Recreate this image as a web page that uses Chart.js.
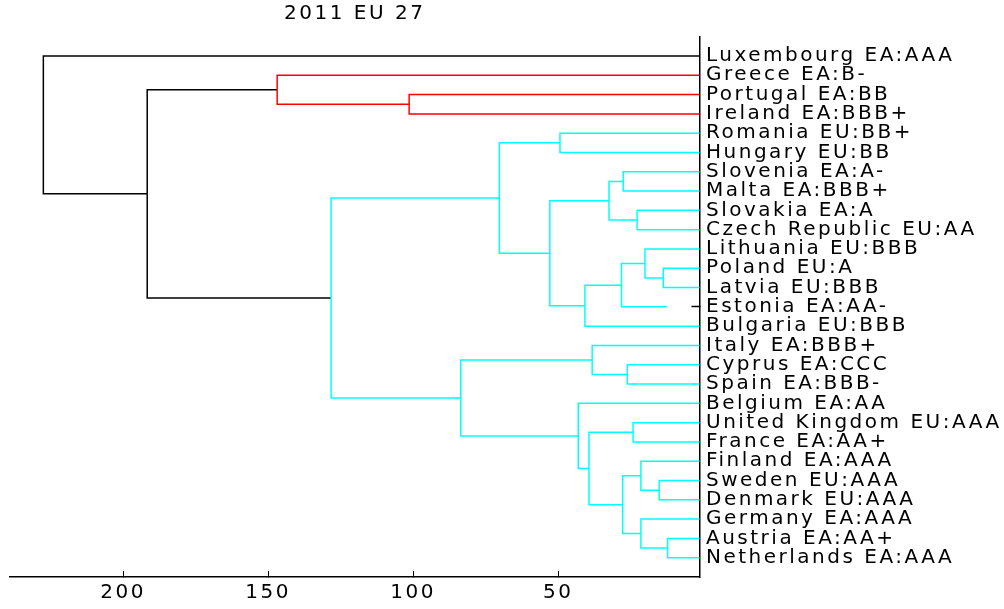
<!DOCTYPE html>
<html>
<head>
<meta charset="utf-8">
<title>2011 EU 27</title>
<script src="https://cdn.jsdelivr.net/npm/chart.js@4/dist/chart.umd.min.js"></script>
<style>
  html, body { margin: 0; padding: 0; background: #fff; }
  #wrap { width: 1004px; height: 609px; }
</style>
</head>
<body>
<div id="wrap"><canvas id="chart" width="1004" height="609"></canvas></div>
<script>
// Leaves, top to bottom
const leafLabels = [
    'Luxembourg EA:AAA', 'Greece EA:B-', 'Portugal EA:BB', 'Ireland EA:BBB+',
    'Romania EU:BB+', 'Hungary EU:BB', 'Slovenia EA:A-', 'Malta EA:BBB+',
    'Slovakia EA:A', 'Czech Republic EU:AA', 'Lithuania EU:BBB', 'Poland EU:A',
    'Latvia EU:BBB', 'Estonia EA:AA-', 'Bulgaria EU:BBB', 'Italy EA:BBB+',
    'Cyprus EA:CCC', 'Spain EA:BBB-', 'Belgium EA:AA', 'United Kingdom EU:AAA',
    'France EA:AA+', 'Finland EA:AAA', 'Sweden EU:AAA', 'Denmark EU:AAA',
    'Germany EA:AAA', 'Austria EA:AA+', 'Netherlands EA:AAA'
];

// Linkage: merge k makes node 27 + k out of two children (leaf index or node index)
const mergeLeft = [25, 11, 22, 10, 21, 24, 8, 19, 16, 6, 31, 30, 36, 15, 34, 38, 18, 4, 39, 44, 40, 2, 46, 1, 50, 0];
const mergeRight = [26, 12, 23, 28, 29, 27, 9, 20, 17, 7, 32, 13, 33, 35, 37, 14, 41, 5, 42, 45, 43, 3, 47, 48, 49, 51];
const mergeHeight = [12.3, 13.8, 15.2, 20.1, 21.5, 21.5, 22.8, 24.2, 26.2, 27.6, 27.8, 28.2, 32.5,
    38.3, 39.4, 40.8, 43.1, 49.4, 52.9, 70.3, 83.6, 101.4, 128.3, 146.9, 191.7, 227.5];

// Estonia's leaf line stops short in the original
const leafTips = { 'Estonia EA:AA-': 12.5 };

const xTicks = [50, 100, 150, 200];

// Position of every node
const nLeaves = leafLabels.length;
const nodeY = leafLabels.map((_, i) => i + 1);
const nodeH = leafLabels.map(() => 0);
mergeHeight.forEach((h, m) => {
    nodeY.push((nodeY[mergeLeft[m]] + nodeY[mergeRight[m]]) / 2);
    nodeH.push(h);
});

// Colour clusters below the cut, black above
const colorCut = 0.7 * Math.max(...mergeHeight);
const clusterPalette = ['#ff0000', '#00ffff'];
const linkColor = [];
let nextColor = 0;
function paint(node, color) {
    if (node < nLeaves) return;
    const m = node - nLeaves;
    let c = color;
    if (!c && mergeHeight[m] < colorCut) c = clusterPalette[nextColor++];
    linkColor[m] = c || '#000000';
    paint(mergeLeft[m], c);
    paint(mergeRight[m], c);
}
paint(nodeY.length - 1, null);

function tip(node) {
    if (node < nLeaves) return leafTips[leafLabels[node]] || 0;
    return nodeH[node];
}

const datasets = mergeHeight.map((h, m) => {
    const a = mergeLeft[m], b = mergeRight[m];
    return {
        data: [
            { x: tip(a), y: nodeY[a] },
            { x: h, y: nodeY[a] },
            { x: h, y: nodeY[b] },
            { x: tip(b), y: nodeY[b] }
        ],
        borderColor: linkColor[m],
        borderWidth: 1.5,
        showLine: true,
        pointRadius: 0,
        fill: false
    };
});

const font = { family: 'DejaVu Sans', size: 20, weight: 'normal', lineHeight: 1.2 };

// wide glyphs like the original
const spacingPlugin = {
    id: 'spacing',
    beforeLayout(chart) { chart.ctx.letterSpacing = '2.5px'; },
    beforeDraw(chart) { chart.ctx.letterSpacing = '2.5px'; }
};

// y ticks only show where a leaf line doesn't cover them
function yTickColor(ctx) {
    const label = leafLabels[ctx.tick.value - 1];
    return leafTips[label] !== undefined ? '#000' : 'rgba(0,0,0,0)';
}

new Chart(document.getElementById('chart'), {
    type: 'scatter',
    data: { datasets: datasets },
    plugins: [spacingPlugin],
    options: {
        responsive: false,
        animation: false,
        devicePixelRatio: 1,
        layout: { padding: { left: 10, right: 0, top: 0, bottom: 0 } },
        plugins: {
            legend: { display: false },
            tooltip: { enabled: false },
            title: {
                display: true,
                text: '2011 EU 27',
                fullSize: false,
                color: '#000',
                font: font,
                padding: { top: 2, bottom: 10.7 }
            }
        },
        scales: {
            x: {
                type: 'linear',
                reverse: true,
                min: 1.3,
                max: 239,
                afterBuildTicks: s => { s.ticks = xTicks.map(v => ({ value: v })); },
                afterFit: s => { s.height = 32; },
                grid: { drawOnChartArea: false, tickLength: -6, color: '#000' },
                border: { color: '#000', width: 1.5 },
                ticks: { color: '#000', font: font, padding: 10, autoSkip: false, maxRotation: 0 }
            },
            y: {
                type: 'linear',
                position: 'right',
                reverse: true,
                min: 0,
                max: 28,
                afterBuildTicks: s => { s.ticks = leafLabels.map((_, i) => ({ value: i + 1 })); },
                afterFit: s => { s.width = 304.5; },
                grid: { drawOnChartArea: false, tickLength: -8, color: '#000', tickColor: yTickColor, tickWidth: 1.5 },
                border: { color: '#000', width: 1.5 },
                ticks: {
                    color: '#000',
                    font: font,
                    padding: 14.5,
                    autoSkip: false,
                    callback: v => leafLabels[v - 1]
                }
            }
        }
    }
});
</script>
</body>
</html>
